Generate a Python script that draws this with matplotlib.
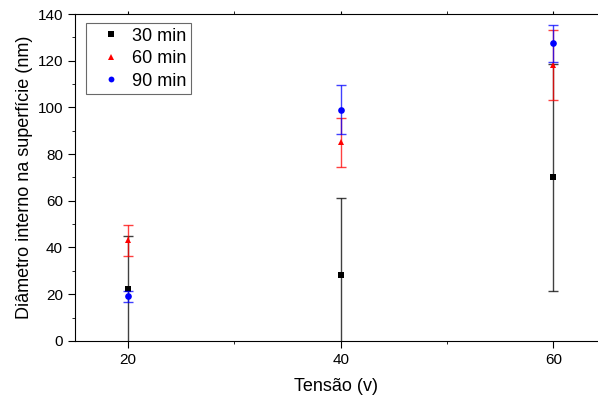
import matplotlib
matplotlib.use("Agg")
import matplotlib.pyplot as plt
from matplotlib.ticker import MultipleLocator
from matplotlib.lines import Line2D

plt.rcParams['font.family'] = ['Liberation Sans', 'DejaVu Sans']

# data
tensao = [20, 40, 60]
d30 = [22, 28, 70]
e30 = [23, 33, 48.5]
d60 = [43, 85, 118]
e60 = [6.6, 10.5, 15]
d90 = [19, 99, 127.5]
e90 = [2.3, 10.5, 8]
labels = ['30 min', '60 min', '90 min']

fig = plt.figure(figsize=(5.98, 4.01), dpi=100)
ax = fig.add_axes([0.125, 0.15, 0.875, 0.815])

series = [(d30, e30, 'black', 's'), (d60, e60, 'red', '^'), (d90, e90, 'blue', 'o')]
handles = []
for (y, err, col, mk), lab in zip(series, labels):
    ax.errorbar(tensao, y, yerr=err, fmt='none', ecolor=col, elinewidth=1.0,
                capsize=3.5, capthick=1.0, alpha=0.75)
    ax.plot(tensao, y, mk, color=col, ms=4.8, mew=0)
    handles.append(Line2D([], [], ls='none', marker=mk, color=col, ms=4.2, mew=0, label=lab))

ax.set_xlim(15, 64.2)
ax.set_ylim(0, 140)
ax.xaxis.set_major_locator(MultipleLocator(20))
ax.xaxis.set_minor_locator(MultipleLocator(10))
ax.yaxis.set_major_locator(MultipleLocator(20))
ax.yaxis.set_minor_locator(MultipleLocator(10))
ax.tick_params(which='major', direction='out', length=5, labelsize=11)
ax.tick_params(which='minor', direction='out', length=2.5)
ax.tick_params(axis='x', which='both', top=True, labeltop=False)
for t in ax.xaxis.get_major_ticks() + ax.xaxis.get_minor_ticks():
    t.tick2line.set_markersize(2)
ax.spines['right'].set_visible(False)

ax.set_xlabel('Tensão (v)', fontsize=13, labelpad=8)
ax.set_ylabel('Diâmetro interno na superfície (nm)', fontsize=13, labelpad=3)

leg = ax.legend(handles=handles, loc='upper left', fontsize=13, frameon=True,
                fancybox=False, edgecolor='#444444', handletextpad=0.1,
                borderpad=0.25, labelspacing=0.3, handlelength=2.2,
                borderaxespad=0, bbox_to_anchor=(0.022, 0.972))
leg.get_frame().set_linewidth(0.8)

fig.savefig('out.png', dpi=100)
